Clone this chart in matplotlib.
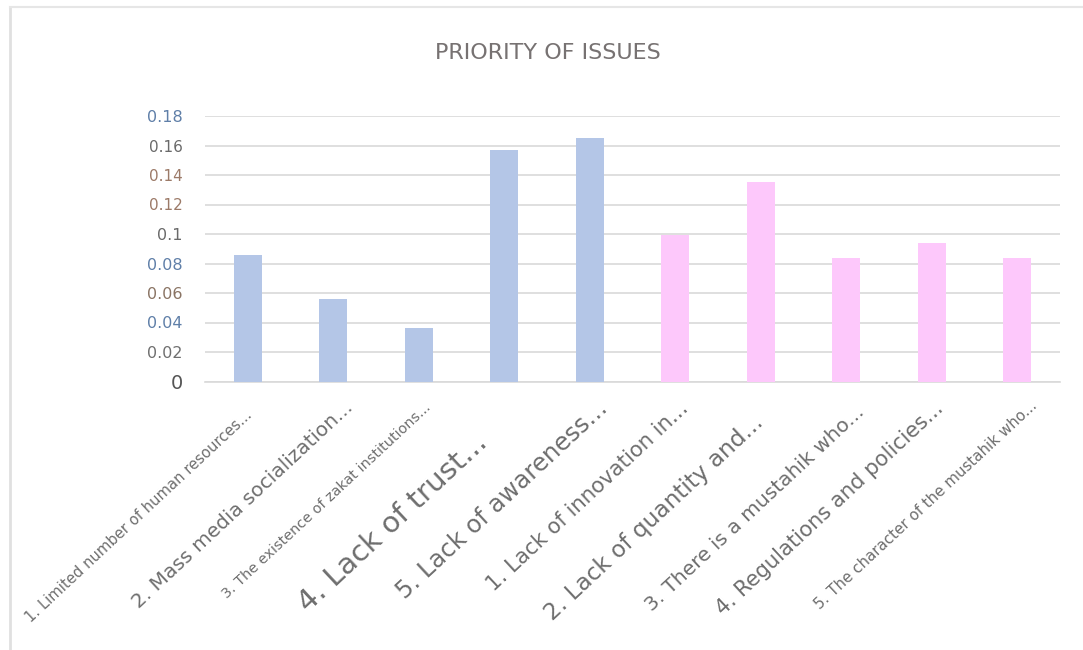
import numpy as np
import matplotlib.pyplot as plt
from matplotlib.lines import Line2D
from matplotlib.transforms import ScaledTranslation

labels = [
    "1. Limited number of human resources...",
    "2. Mass media socialization...",
    "3. The existence of zakat institutions...",
    "4. Lack of trust...",
    "5. Lack of awareness...",
    "1. Lack of innovation in...",
    "2. Lack of quantity and...",
    "3. There is a mustahik who...",
    "4. Regulations and policies...",
    "5. The character of the mustahik who...",
]
values = [0.086, 0.056, 0.036, 0.157, 0.165, 0.099, 0.135, 0.084, 0.094, 0.084]
bar_colors = ["#b4c6e7"] * 5 + ["#fdc8fb"] * 5

# look of the category labels (size, and nudge of the label end in pixels)
label_sizes = [10.6, 14.4, 10.4, 21, 17.5, 15.3, 16.7, 14.5, 15.2, 10.9]
label_nudge = [(5, 35), (21, 27), (13, 27), (-16, 63), (19, 28),
               (14, 28), (4, 42), (19, 32), (13, 28), (21, 25)]

yticks = [0, 0.02, 0.04, 0.06, 0.08, 0.1, 0.12, 0.14, 0.16, 0.18]
ytick_labels = ["0", "0.02", "0.04", "0.06", "0.08", "0.1", "0.12", "0.14", "0.16", "0.18"]
ytick_colors = ["#555555", "#6f6f6f", "#5f7fa8", "#8a7464", "#5f7fa8",
                "#6a6a6a", "#9c7a68", "#9c7a68", "#6a6a6a", "#5f7fa8"]
ytick_sizes = [14, 11.5, 11.5, 11.5, 11.5, 11.5, 11, 11, 11, 11.5]

fig = plt.figure(figsize=(10.83, 6.5), dpi=100)
ax = fig.add_axes([205 / 1083, 1 - 381.5 / 650, 855 / 1083, 265.5 / 650])

x = np.arange(len(values))
ax.bar(x, values, width=0.33, color=bar_colors, zorder=3)

ax.set_xlim(-0.5, len(values) - 0.5)
ax.set_ylim(0, 0.18)
ax.set_yticks(yticks)
ax.set_yticklabels(ytick_labels)
for t, c, s in zip(ax.get_yticklabels(), ytick_colors, ytick_sizes):
    t.set_color(c)
    t.set_fontsize(s)
ax.tick_params(axis="y", length=0, pad=16)
ax.tick_params(axis="x", length=0, pad=0)
ax.yaxis.grid(True, color="#d9d9d9", linewidth=1.2, zorder=0)

ax.set_xticks(x)
ax.set_xticklabels(labels, rotation=43, ha="right", va="baseline", rotation_mode="anchor")
for t, s, (dx, dy) in zip(ax.get_xticklabels(), label_sizes, label_nudge):
    t.set_fontsize(s)
    t.set_color("#6e6e6e")
    t.set_transform(t.get_transform() + ScaledTranslation(dx / 100, -dy / 100, fig.dpi_scale_trans))

for side in ["top", "right", "left"]:
    ax.spines[side].set_visible(False)
ax.spines["bottom"].set_color("#d9d9d9")
ax.spines["bottom"].set_linewidth(1.2)

fig.text(548 / 1083, 1 - 53 / 650, "PRIORITY OF ISSUES", ha="center", va="center",
         fontsize=16, color="#777272")

# light frame on the left and top edge
fig.add_artist(Line2D([10 / 1083, 10 / 1083], [0, 1 - 7 / 650], transform=fig.transFigure,
                      color="#e0e0e0", linewidth=2))
fig.add_artist(Line2D([10 / 1083, 1], [1 - 7 / 650, 1 - 7 / 650], transform=fig.transFigure,
                      color="#e6e6e6", linewidth=1.5))

fig.savefig("out.png", dpi=100)
